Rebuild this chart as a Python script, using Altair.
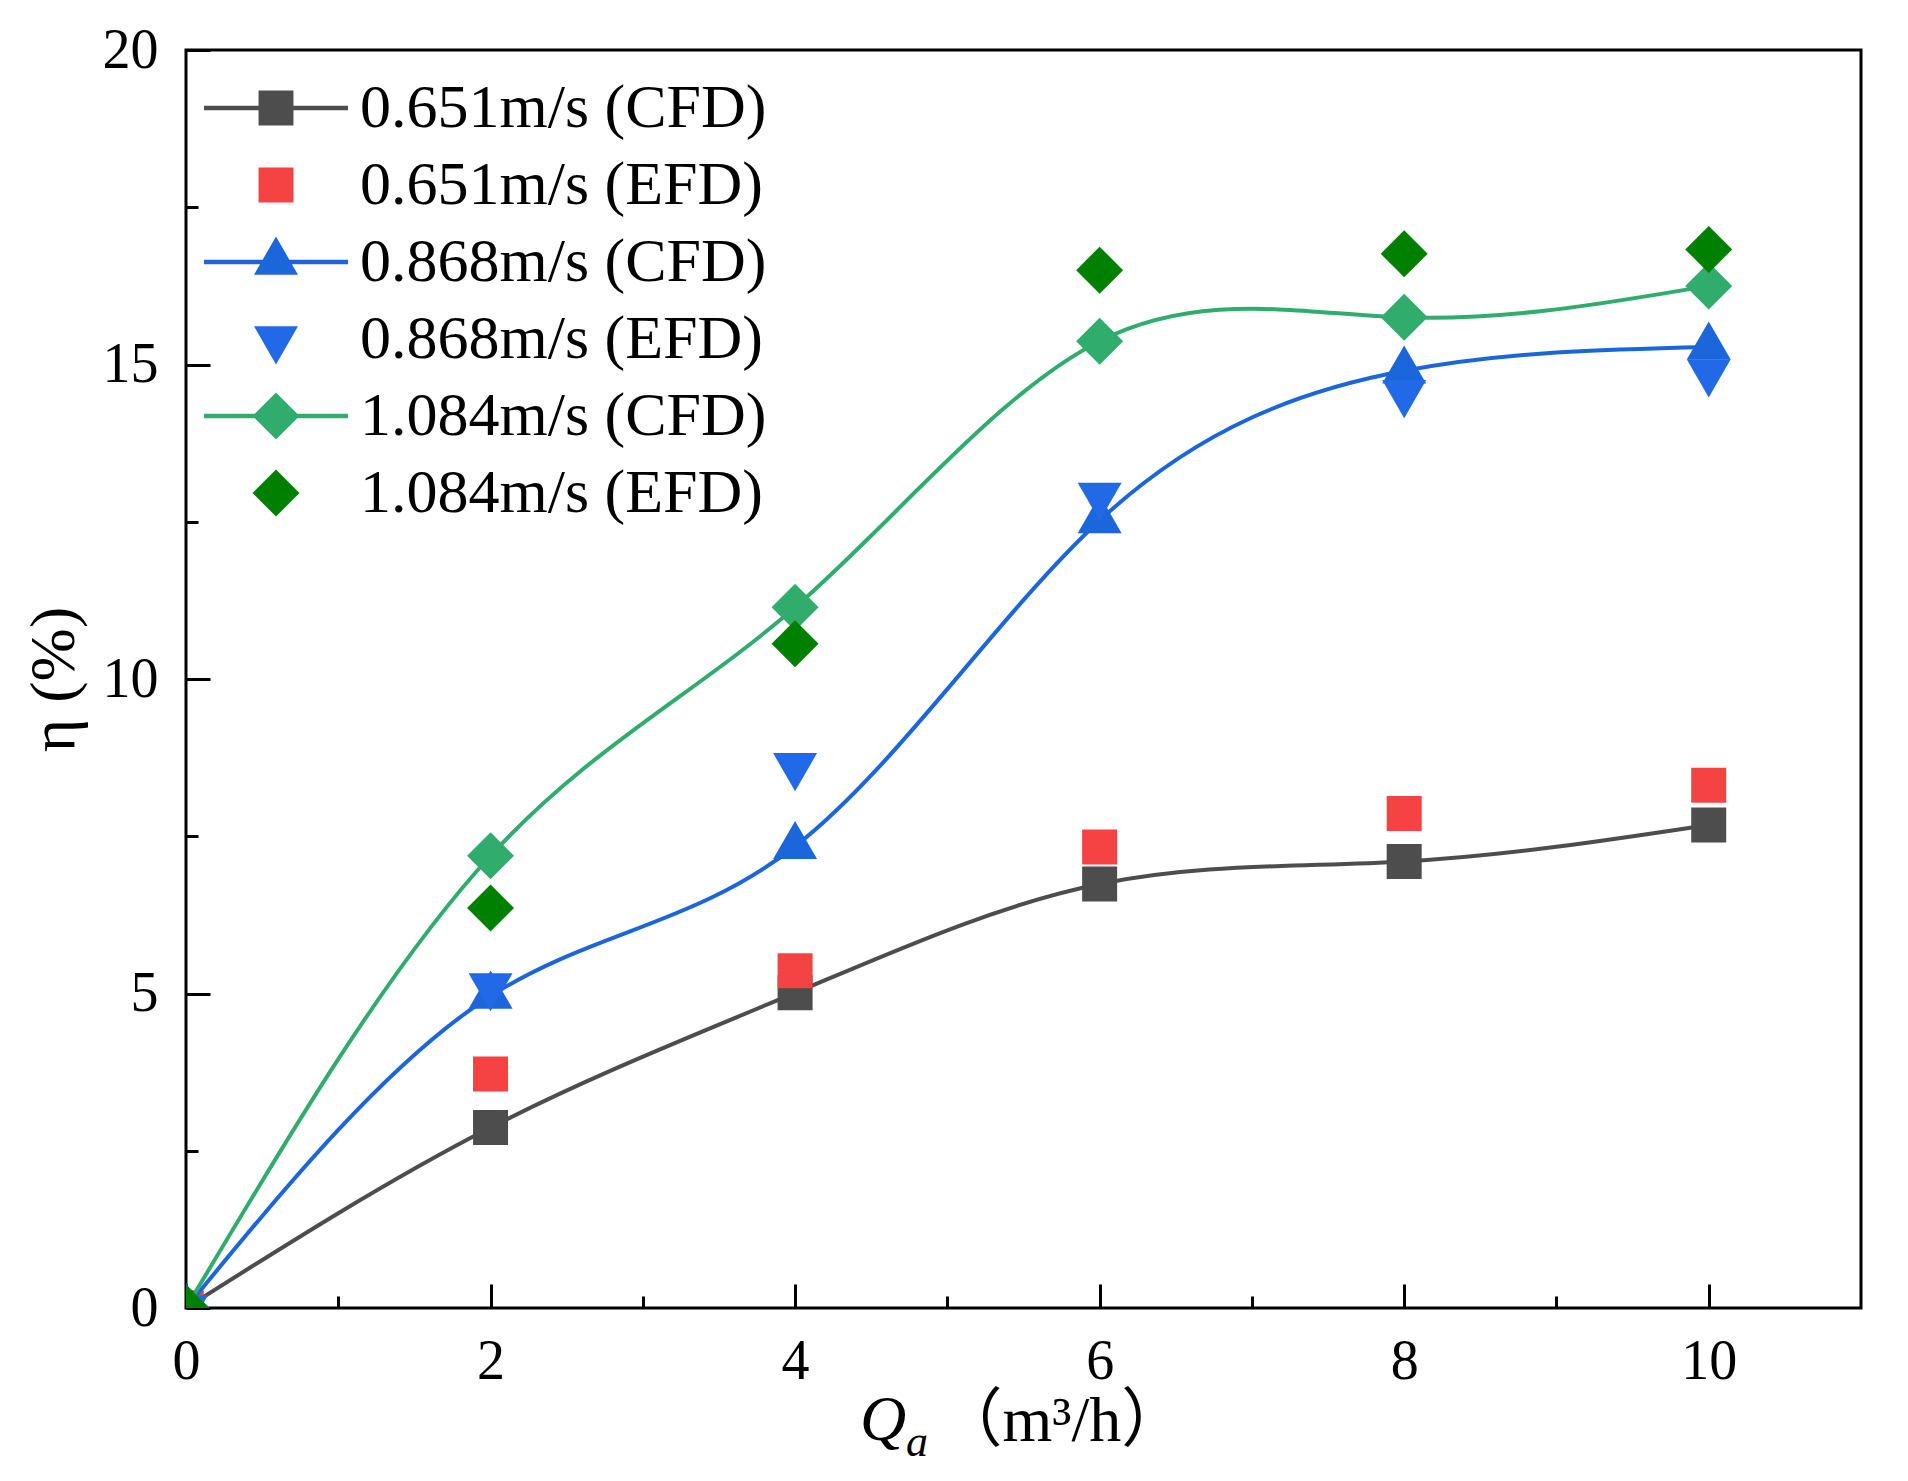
import altair as alt
import pandas as pd

# air flow rate Qa (m3/h) and efficiency eta (%)
qa = [0, 2, 4, 6, 8, 10]
cfd_0651 = [0, 2.87, 5.01, 6.74, 7.10, 7.68]
efd_0651 = [0, 3.72, 5.36, 7.33, 7.86, 8.31]
cfd_0868 = [0, 4.96, 7.34, 12.52, 14.90, 15.28]
efd_0868 = [0, 5.12, 8.62, 12.92, 14.55, 14.88]
cfd_1084 = [0, 7.19, 11.14, 15.37, 15.75, 16.25]
efd_1084 = [0, 6.36, 10.56, 16.50, 16.76, 16.83]

names = [
    "0.651m/s (CFD)", "0.651m/s (EFD)",
    "0.868m/s (CFD)", "0.868m/s (EFD)",
    "1.084m/s (CFD)", "1.084m/s (EFD)",
]
colors = ["#4d4d4d", "#f54242", "#1c66dc", "#2169e6", "#30ac6c", "#008000"]

x_major = [0, 2, 4, 6, 8, 10]
x_minor = [1, 3, 5, 7, 9]
y_major = [0, 5, 10, 15, 20]
y_minor = [2.5, 7.5, 12.5, 17.5]

SERIF = "Liberation Serif, Times New Roman, Noto Sans CJK SC"

TRI_UP = "M 0 -1.155 L 1 0.577 L -1 0.577 Z"
TRI_DOWN = "M 0 1.155 L 1 -0.577 L -1 -0.577 Z"

# legend symbols (unit = 18 px), CFD entries carry a line through the marker
LEG_LINE = "M -4 -0.12 H 4 V 0.12 H -4 Z"
LEG_SQUARE = "M -0.97 -0.97 H 0.97 V 0.97 H -0.97 Z"
LEG_UP = "M 0 -1.411 L 1.222 0.706 L -1.222 0.706 Z"
LEG_DOWN = "M 0 1.411 L 1.222 -0.706 L -1.222 -0.706 Z"
LEG_DIAMOND = "M 0 -1.306 L 1.306 0 L 0 1.306 L -1.306 0 Z"
legend_shapes = [
    LEG_LINE + " " + LEG_SQUARE, LEG_SQUARE,
    LEG_LINE + " " + LEG_UP, LEG_DOWN,
    LEG_LINE + " " + LEG_DIAMOND, LEG_DIAMOND,
]

series = [cfd_0651, efd_0651, cfd_0868, efd_0868, cfd_1084, efd_1084]
frames = [pd.DataFrame({"Qa": qa, "eta": s, "series": n}) for s, n in zip(series, names)]
long_df = pd.concat(frames, ignore_index=True)

xscale = alt.Scale(domain=[0, 11], nice=False, zero=False)
yscale = alt.Scale(domain=[0, 20], nice=False, zero=False)

tick_style = dict(tickWidth=3, tickColor="black", domain=False, grid=False)

x_axis_major = alt.Axis(
    orient="bottom", values=x_major, offset=-24, tickSize=24, **tick_style,
    labelFont=SERIF, labelFontSize=56, labelColor="black", labelPadding=26,
    labelFlush=False, labelOverlap=False, format="d",
    title="（m³/h）", titleFont=SERIF, titleFontSize=64, titleFontWeight="normal",
    titleColor="black", titleAlign="left", titleBaseline="alphabetic",
    titleX=752, titleY=156,
)
y_axis_major = alt.Axis(
    orient="left", values=y_major, offset=-24, tickSize=24, **tick_style,
    labelFont=SERIF, labelFontSize=56, labelColor="black", labelPadding=28,
    labelFlush=False, labelOverlap=False, format="d",
    title="η (%)", titleFont=SERIF, titleFontSize=64, titleFontWeight="normal",
    titleColor="black", titleAngle=270, titleAlign="center", titleBaseline="middle",
    titleX=-156, titleY=629,
)
x_axis_minor = alt.Axis(orient="bottom", values=x_minor, offset=-12, tickSize=12,
                        labels=False, title=None, **tick_style)
y_axis_minor = alt.Axis(orient="left", values=y_minor, offset=-12, tickSize=12,
                        labels=False, title=None, **tick_style)


def enc(chart, xaxis=None, yaxis=None):
    return chart.encode(
        x=alt.X("Qa:Q", scale=xscale, axis=xaxis),
        y=alt.Y("eta:Q", scale=yscale, axis=yaxis),
    )


def line(df, color):
    return alt.Chart(df).mark_line(interpolate="natural", strokeWidth=4, color=color, clip=True)


def points(df, color, shape, size):
    return alt.Chart(df).mark_point(filled=True, opacity=1, color=color, shape=shape,
                                    size=size, strokeWidth=0, clip=True)


layers = [
    enc(line(frames[0], colors[0]), x_axis_major, y_axis_major),
    enc(points(frames[0], colors[0], "square", 1225)),
    enc(points(frames[1], colors[1], "square", 1225), x_axis_minor, y_axis_minor),
    enc(line(frames[2], colors[2])),
    enc(points(frames[2], colors[2], TRI_UP, 1936)),
    enc(points(frames[3], colors[3], TRI_DOWN, 1936)),
    enc(line(frames[4], colors[4])),
    enc(points(frames[4], colors[4], "diamond", 2209)),
    enc(points(frames[5], colors[5], "diamond", 2209)),
]

legend = alt.Legend(
    orient="none", legendX=59, legendY=27, title=None, padding=0, offset=0,
    labelFont=SERIF, labelFontSize=62, labelColor="black", labelLimit=1000,
    symbolSize=1296, symbolStrokeWidth=0, symbolOpacity=1, symbolOffset=0,
    labelOffset=53, rowPadding=15,
)
legend_layer = enc(alt.Chart(long_df).mark_point(filled=True, opacity=0)).encode(
    shape=alt.Shape("series:N", scale=alt.Scale(domain=names, range=legend_shapes), legend=legend),
    color=alt.Color("series:N", scale=alt.Scale(domain=names, range=colors), legend=legend),
)
layers.append(legend_layer)

# italic Q with subscript a, in front of the axis title
q_text = alt.Chart(pd.DataFrame({"t": ["Q"]})).mark_text(
    font=SERIF, fontSize=64, fontStyle="italic", align="left", baseline="alphabetic", color="black"
).encode(text="t:N", x=alt.value(674), y=alt.value(1390))
a_text = alt.Chart(pd.DataFrame({"t": ["a"]})).mark_text(
    font=SERIF, fontSize=44, fontStyle="italic", align="left", baseline="alphabetic", color="black"
).encode(text="t:N", x=alt.value(720), y=alt.value(1406))
layers += [q_text, a_text]

chart = (
    alt.layer(*layers)
    .resolve_axis(x="independent", y="independent")
    .properties(
        width=1675, height=1258,
        autosize=alt.AutoSizeParams(type="none"),
        padding={"left": 178, "top": 42, "right": 30, "bottom": 163},
        background="white",
    )
    .configure_view(stroke="black", strokeWidth=3)
)

chart.save("out.html", embed_options={"renderer": "svg", "actions": False})
